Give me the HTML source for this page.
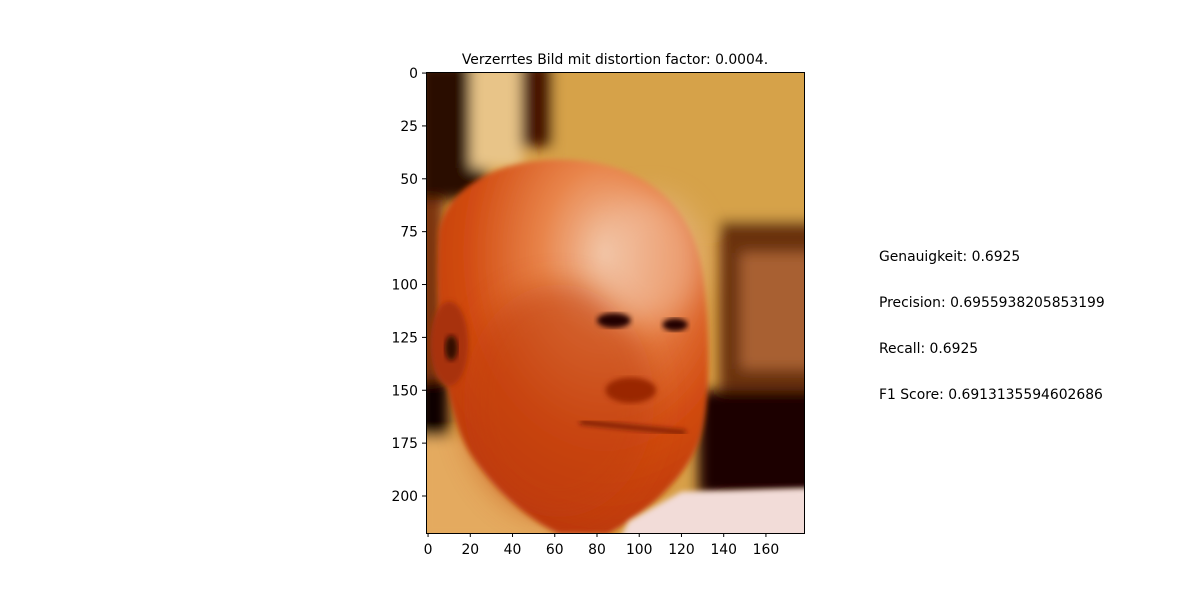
<!DOCTYPE html>
<html><head><meta charset="utf-8"><style>
body{margin:0;background:#fff;}
svg text{font-family:"DejaVu Sans","Liberation Sans",sans-serif;fill:#000;}
</style></head><body>
<svg id="chart" width="1200" height="600" viewBox="0 0 1200 600" xmlns="http://www.w3.org/2000/svg">
<defs>
<filter id="blur" x="-20%" y="-20%" width="140%" height="140%"><feGaussianBlur stdDeviation="3"/></filter>
<filter id="blur2"><feGaussianBlur stdDeviation="1.2"/></filter>
<filter id="blur6" x="-30%" y="-30%" width="160%" height="160%"><feGaussianBlur stdDeviation="7"/></filter>
<radialGradient id="headG" cx="0.62" cy="0.25" r="0.85">
<stop offset="0" stop-color="#f2c4a4"/><stop offset="0.28" stop-color="#e8844a"/><stop offset="0.6" stop-color="#d24c12"/><stop offset="1" stop-color="#b43006"/>
</radialGradient>
<clipPath id="imgclip"><rect x="-0.5" y="-0.5" width="179" height="218"/></clipPath>
</defs>
<text x="615" y="64" font-size="13.9" text-anchor="middle">Verzerrtes Bild mit distortion factor: 0.0004.</text>
<svg x="427" y="72" width="378" height="461" viewBox="-0.5 -0.5 179 218" preserveAspectRatio="none">
<g clip-path="url(#imgclip)">
<rect x="-1" y="-1" width="181" height="220" fill="#d8a048"/>
<g filter="url(#blur)">
<rect x="-5" y="-5" width="33" height="65" fill="#2a0c00"/>
<rect x="20" y="-5" width="25" height="50" fill="#e8c488"/>
<rect x="44" y="-5" width="15" height="40" fill="#4a1800"/>
<rect x="60" y="-5" width="125" height="80" fill="#d6a24a"/>
<rect x="138" y="70" width="50" height="135" fill="#6a3010"/>
<rect x="148" y="85" width="35" height="55" fill="#a86030"/>
<rect x="128" y="150" width="60" height="50" fill="#1a0400"/>
<rect x="-5" y="60" width="12" height="120" fill="#7a3008"/>
<rect x="-5" y="145" width="15" height="30" fill="#100000"/>
<rect x="-5" y="172" width="80" height="50" fill="#e4aa5e"/>
</g>
<path d="M5 75 C10 50 40 40 65 41 C100 42 125 60 130 95 C134 120 134 160 128 175 C120 195 100 210 85 218 L62 218 C45 210 30 195 20 180 C8 160 3 120 5 75 Z" fill="url(#headG)" filter="url(#blur2)"/>
<ellipse cx="62" cy="155" rx="45" ry="55" fill="#c03c0c" opacity="0.55" filter="url(#blur6)"/>
<ellipse cx="105" cy="88" rx="25" ry="30" fill="#f2c4a8" opacity="0.5" filter="url(#blur6)"/>
<ellipse cx="10" cy="128" rx="9" ry="20" fill="#a83008" filter="url(#blur2)"/>
<ellipse cx="11" cy="130" rx="3" ry="6" fill="#300800" filter="url(#blur2)"/>
<ellipse cx="88" cy="117" rx="8" ry="3.5" fill="#200400" filter="url(#blur2)"/>
<ellipse cx="117" cy="119" rx="6" ry="3" fill="#200400" filter="url(#blur2)"/>
<ellipse cx="96" cy="150" rx="12" ry="6" fill="#9a2800" filter="url(#blur2)"/>
<path d="M72 165 Q100 168 122 170" stroke="#701800" stroke-width="2" fill="none" filter="url(#blur2)"/>
<path d="M95 212 L120 198 L185 196 L185 222 L90 222 Z" fill="#f2dcd8" filter="url(#blur2)"/>
</g>
</svg>
<rect x="426.5" y="72.5" width="378" height="461" fill="none" stroke="#000" stroke-width="1"/>
<g id="xaxis"></g>
<g id="yaxis"></g>
<g font-size="13.9">
<text x="879" y="261">Genauigkeit: 0.6925</text>
<text x="879" y="307">Precision: 0.6955938205853199</text>
<text x="879" y="353">Recall: 0.6925</text>
<text x="879" y="399">F1 Score: 0.6913135594602686</text>
</g>
</svg>
<script>
const xTicks=[0,20,40,60,80,100,120,140,160];
const yTicks=[0,25,50,75,100,125,150,175,200];
const ns="http://www.w3.org/2000/svg";
const x0=427,y0=72,sx=378/179,sy=461/218;
const X=v=>x0+(v+0.5)*sx, Y=v=>y0+(v+0.5)*sy;
const xa=document.getElementById('xaxis'), ya=document.getElementById('yaxis');
xTicks.forEach(t=>{
 const l=document.createElementNS(ns,'line');
 
 
 l.setAttribute('x1',X(t));l.setAttribute('x2',X(t));l.setAttribute('y1',533);l.setAttribute('y2',537);l.setAttribute('stroke','#000');
 xa.appendChild(l);
 const tx=document.createElementNS(ns,'text');
 
 
 tx.setAttribute('x',X(t));tx.setAttribute('y',554);tx.setAttribute('font-size','13.9');tx.setAttribute('text-anchor','middle');
 tx.textContent=t;xa.appendChild(tx);
});
yTicks.forEach(t=>{
 const l=document.createElementNS(ns,'line');
 
 
 l.setAttribute('x1',422);l.setAttribute('x2',426.5);l.setAttribute('y1',Y(t));l.setAttribute('y2',Y(t));l.setAttribute('stroke','#000');
 ya.appendChild(l);
 const tx=document.createElementNS(ns,'text');
 
 
 tx.setAttribute('x',418);tx.setAttribute('y',Y(t)+5);tx.setAttribute('font-size','13.9');tx.setAttribute('text-anchor','end');
 tx.textContent=t;ya.appendChild(tx);
});
</script>
</body></html>
